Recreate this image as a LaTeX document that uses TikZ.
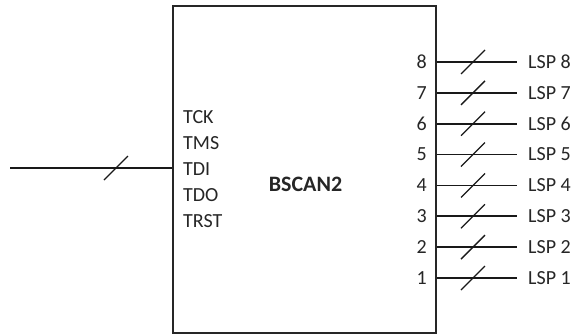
\documentclass[tikz,border=0pt]{standalone}
\usepackage{fontspec}
\setmainfont{Carlito}
\begin{document}
\begin{tikzpicture}[x=1pt,y=-1pt,
  wire/.style={line width=1.7pt, draw=black!90},
  slashline/.style={line width=1.3pt, draw=black!90},
  lbl/.style={inner sep=0pt, font=\fontsize{20}{24}\selectfont, text=black!85},
  title/.style={inner sep=0pt, font=\fontsize{22}{26}\selectfont\bfseries, text=black!85}]
\useasboundingbox (0,0) rectangle (574,335);
\node[draw=black!85, line width=2pt, minimum width=263pt, minimum height=327pt, inner sep=0pt] (box) at (304.5,169.5) {};
\node[title] (name) at (305.5,184) {BSCAN2};
\node[lbl, anchor=west] (tck) at (183,117) {TCK};
\node[lbl, anchor=west] (tms) at (183,143) {TMS};
\node[lbl, anchor=west] (tdi) at (183,169) {TDI};
\node[lbl, anchor=west] (tdo) at (183,195) {TDO};
\node[lbl, anchor=west] (trst) at (183,221) {TRST};
\coordinate (lin) at (10,168);
\draw[wire] (lin) -- (box.west |- lin);
\coordinate (ls) at (116,168);
\draw[slashline] ([shift={(-12,12)}]ls) -- ([shift={(12,-12)}]ls);
\foreach \k in {1,...,8} {
  \pgfmathsetmacro{\yy}{278-(\k-1)*30.86}
  \coordinate (e\k) at (517,\yy);
  \node[lbl, anchor=east] (n\k) at (427,\yy) {\k};
  \node[lbl, anchor=west] (lsp\k) at (528,\yy) {LSP \k};
  \draw[wire] (box.east |- e\k) -- (e\k);
  \coordinate (s\k) at (473,\yy);
  \draw[slashline] ([shift={(-12,12)}]s\k) -- ([shift={(12,-12)}]s\k);
}
\end{tikzpicture}
\end{document}
